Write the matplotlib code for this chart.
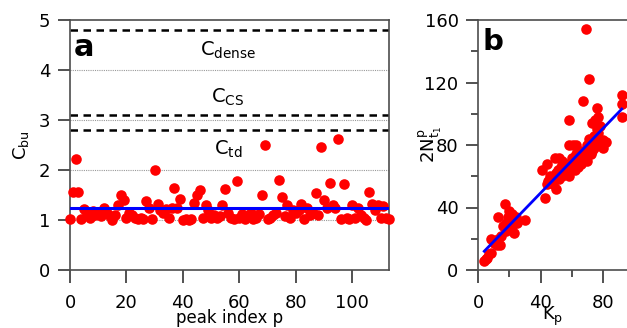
import matplotlib
matplotlib.use('Agg')
import matplotlib.pyplot as plt
import numpy as np

plt.rcParams['font.family'] = ['DejaVu Sans']

# panel a: C_bu per peak index
cbu = [1.03, 1.56, 2.22, 1.56, 1.02, 1.22, 1.12, 1.05, 1.18, 1.10,
       1.15, 1.08, 1.25, 1.15, 1.08, 1.00, 1.10, 1.30, 1.50, 1.40,
       1.05, 1.15, 1.10, 1.05, 1.02, 1.05, 1.03, 1.38, 1.25, 1.02,
       2.00, 1.32, 1.20, 1.15, 1.22, 1.05, 1.25, 1.65, 1.25, 1.42,
       1.00, 1.02, 1.00, 1.03, 1.35, 1.50, 1.60, 1.05, 1.30, 1.20,
       1.05, 1.10, 1.05, 1.08, 1.30, 1.62, 1.15, 1.05, 1.03, 1.78,
       1.05, 1.12, 1.03, 1.10, 1.15, 1.02, 1.05, 1.12, 1.50, 2.50,
       1.02, 1.05, 1.10, 1.15, 1.80, 1.47, 1.08, 1.30, 1.05, 1.20,
       1.15, 1.20, 1.33, 1.02, 1.25, 1.10, 1.15, 1.55, 1.10, 2.47,
       1.40, 1.25, 1.75, 1.30, 1.25, 2.62, 1.02, 1.72, 1.05, 1.02,
       1.30, 1.05, 1.25, 1.10, 1.05, 1.00, 1.57, 1.32, 1.20, 1.30,
       1.05, 1.28, 1.05, 1.02]
peak_idx = np.arange(len(cbu))
cbu_mean = 1.25
thresholds = [4.8, 3.1, 2.8]
region_labels = [(56, 4.4, r'C$_{\mathrm{dense}}$'),
                 (56, 3.46, r'C$_{\mathrm{CS}}$'),
                 (56, 2.42, r'C$_{\mathrm{td}}$')]

# panel b: 2N vs K_p
kp = [4, 5, 6, 7, 8, 8, 10, 12, 13, 13, 14, 15, 16, 17, 18, 18, 19, 20, 20, 21,
      22, 22, 23, 24, 25, 30,
      41, 43, 44, 44, 45, 46, 47, 48, 49, 50, 50, 51, 52, 52, 53, 54, 54, 55,
      56, 56, 57, 58, 58, 58, 59, 60, 60, 61, 62, 62, 63, 63, 64, 64, 65, 65,
      66, 66, 67, 67, 68, 68, 69, 69, 70, 70, 71, 71, 71, 72, 72, 73, 73, 74,
      74, 75, 75, 76, 76, 76, 77, 77, 78, 78, 79, 80, 80, 82, 92, 92, 92]
n2 = [6, 7, 8, 10, 11, 20, 17, 16, 20, 34, 16, 22, 28, 42, 25, 30, 34, 26, 38, 32,
      28, 36, 24, 34, 30, 32,
      64, 46, 55, 68, 57, 60, 58, 55, 72, 52, 62, 64, 58, 72, 66, 60, 70, 63,
      62, 68, 66, 60, 80, 96, 64, 66, 72, 80, 68, 64, 74, 80, 70, 66, 72, 76,
      68, 74, 70, 108, 72, 76, 154, 74, 80, 70, 122, 78, 84, 74, 82, 76, 94, 86,
      78, 80, 96, 90, 104, 84, 88, 98, 80, 92, 82, 83, 78, 82, 112, 106, 98]
fit_k = [4, 92]
fit_n = [12, 103]

fig = plt.figure(figsize=(6.27, 3.28), dpi=100)
ax1 = fig.add_axes([70/627, 58/328, 319/627, 250/328])
ax2 = fig.add_axes([478/627, 58/328, 150/627, 250/328])

# --- panel a
for yv in [1, 2, 3, 4]:
    ax1.axhline(yv, color='0.6', lw=0.8, ls=(0, (1, 1)), zorder=1)
for yv in thresholds:
    ax1.axhline(yv, color='black', lw=1.8, ls=(0, (3, 2.2)), zorder=2)
ax1.scatter(peak_idx, cbu, s=58, color='#ff0000', zorder=3, clip_on=False, linewidths=0)
ax1.plot([0, 113], [cbu_mean, cbu_mean], color='#0000ff', lw=2.2, zorder=4)
for x, y, t in region_labels:
    ax1.text(x, y, t, ha='center', va='center', fontsize=14)
ax1.text(1.5, 4.45, 'a', fontsize=22, fontweight='bold', va='center')
ax1.set_xlim(0, 113)
ax1.set_ylim(0, 5)
ax1.set_xticks([0, 20, 40, 60, 80, 100])
ax1.set_yticks([0, 1, 2, 3, 4, 5])
ax1.tick_params(axis='both', labelsize=13, length=9, width=1.2, color='0.2', pad=5)
ax1.tick_params(axis='x', pad=8)
ax1.set_xlabel('peak index p', fontsize=12, labelpad=-2)
ax1.set_ylabel(r'C$_{\mathrm{bu}}$', fontsize=13, labelpad=6)
for sp in ax1.spines.values():
    sp.set_color('0.3')
    sp.set_linewidth(1.2)

# --- panel b
ax2.scatter(kp, n2, s=58, color='#ff0000', zorder=3, clip_on=False, linewidths=0)
ax2.plot(fit_k, fit_n, color='#0000ff', lw=2, zorder=4)
ax2.text(3, 146, 'b', fontsize=21, fontweight='bold', va='center')
ax2.set_xlim(0, 96)
ax2.set_ylim(0, 160)
ax2.set_xticks([0, 40, 80])
ax2.set_xticks([20, 60], minor=True)
ax2.set_yticks([0, 40, 80, 120, 160])
ax2.set_yticks([20, 60, 100, 140], minor=True)
ax2.tick_params(axis='both', which='major', labelsize=13, length=9, width=1.2, color='0.2', pad=5)
ax2.tick_params(axis='both', which='minor', length=5, width=1.2, color='0.2')
ax2.tick_params(axis='x', which='major', pad=8)
ax2.set_xlabel(r'K$_{\mathrm{p}}$', fontsize=13, labelpad=-5)
ax2.set_ylabel(r'2N$^{\mathrm{p}}_{\mathrm{t_1}}$', fontsize=13, labelpad=-14)
for sp in ax2.spines.values():
    sp.set_color('0.3')
    sp.set_linewidth(1.2)

fig.savefig('out.png', dpi=100)
